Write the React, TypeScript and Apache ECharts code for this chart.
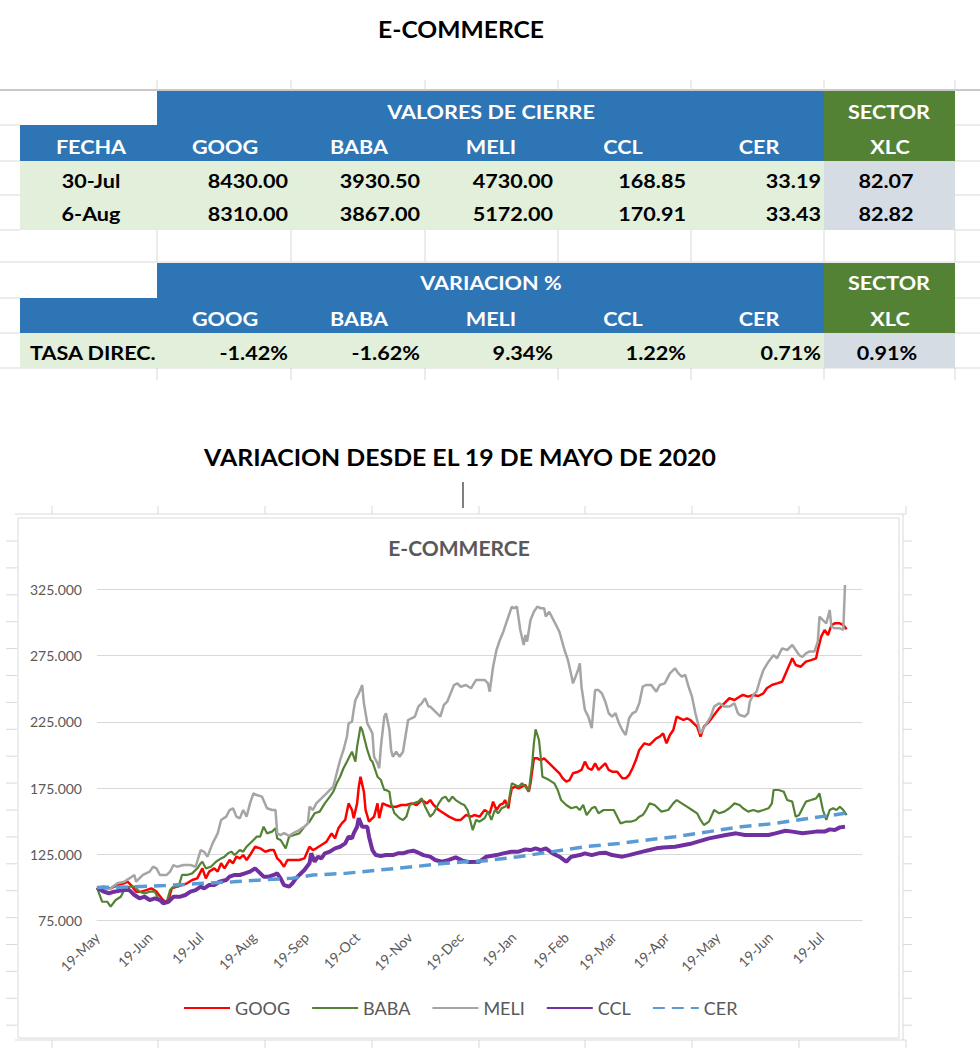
import React, { useEffect, useRef } from "react";
import * as echarts from "echarts";

// ---------- Table data ----------
const TICKERS = ["GOOG", "BABA", "MELI", "CCL", "CER"];
const SECTOR_NAME = "XLC";
const CLOSE_DATES = ["30-Jul", "6-Aug"];
const CLOSE_ROW_1 = ["8430.00", "3930.50", "4730.00", "168.85", "33.19"];
const CLOSE_ROW_2 = ["8310.00", "3867.00", "5172.00", "170.91", "33.43"];
const CLOSE_SECTOR = ["82.07", "82.82"];
const VAR_LABEL = "TASA DIREC.";
const VAR_VALUES = ["-1.42%", "-1.62%", "9.34%", "1.22%", "0.71%"];
const VAR_SECTOR = "0.91%";

// ---------- Chart data: [days since 19-May-2020, index (19-May-2020 = 100)] ----------
const GOOG: number[][] = [
  [0,100],[4,100.7],[8,99.4],[12,101.9],[16,103.2],[18,104.4],[20,101.9],[23,96.9],[26,96.9],[29,98.1],[32,99.4],[35,96.9],[38,91.9],[40,89.3],[42,90.6],[44,99.4],[47,100.7],[50,101.9],[53,103.2],[56,105.7],[59,106.9],[61,112],[62,114.5],[64,106.9],[66,112],[69,114.5],[71,112],[73,118.3],[75,114.5],[78,120.8],[80,118.3],[82,123.3],[84,122],[86,124.5],[88,120.8],[90,124.5],[93,130.8],[96,129.6],[99,127],[102,128.3],[104,128.3],[106,122],[108,119.5],[110,115.7],[112,120.8],[115,120.8],[119,120.8],[122,122],[125,130.8],[127,128.3],[129,129.6],[132,132.1],[135,134.6],[138,140.9],[140,137.1],[142,144.7],[144,148.4],[146,151],[148,163.5],[150,158.5],[151,152.3],[153,163.5],[154,176.1],[155,183.6],[157,172.3],[158,158.5],[160,149.7],[162,152.3],[163,153.5],[165,163.5],[166,152.3],[168,163.5],[170,162.3],[173,161],[176,161],[179,162.3],[182,162.3],[185,163.5],[188,162.3],[191,166],[194,163.5],[196,166],[198,162.3],[201,158.5],[204,156],[207,153.5],[211,151],[214,151],[217,154.7],[220,153.5],[222,154.7],[225,153.5],[228,158.5],[231,156],[233,164.8],[235,158.5],[237,162.3],[239,163.5],[240,166],[242,159.8],[243,168.6],[244,174.8],[246,176.1],[248,174.8],[250,176.1],[252,177.4],[254,172.3],[255,178.6],[257,197.5],[259,197.5],[261,196.2],[263,197.5],[265,195],[268,191.2],[272,186.2],[274,182.4],[276,179.9],[278,181.1],[280,186.2],[283,187.4],[285,188.7],[287,195],[289,190],[291,188.7],[293,193.7],[295,188.7],[297,191.2],[299,193.7],[301,188.7],[303,187.4],[306,187.4],[309,182.4],[311,182.4],[313,184.9],[315,190],[317,196.2],[319,203.8],[322,208.8],[325,207.6],[327,210.1],[329,212.6],[331,213.8],[333,216.3],[335,208.8],[337,215.1],[339,218.9],[341,229],[343,227.7],[345,226.4],[347,227.7],[349,226.4],[351,223.9],[353,221.4],[355,213.8],[357,221.4],[360,225.1],[363,230.2],[366,235.2],[369,239],[372,242.8],[375,241.5],[378,244],[380,245.3],[383,244],[386,245.3],[389,244.5],[392,246.5],[394,250.3],[397,252.8],[400,254],[403,255.3],[406,264.1],[409,272.9],[411,267.9],[414,266.6],[417,270.4],[420,271.6],[423,272.9],[424,279.2],[426,289.3],[428,294.3],[430,290.5],[432,298],[434,299.3],[437,299.3],[439,298],[441,294.8]
];

const BABA: number[][] = [
  [0,100],[3,89.3],[6,89.3],[8,85.6],[11,90.6],[14,93.1],[16,98.1],[19,100.7],[22,100.7],[25,96.9],[28,95.6],[31,96.9],[34,96.9],[36,91.9],[38,89.3],[41,89.3],[43,98.1],[45,100.7],[48,100.7],[50,109.5],[53,109.5],[56,110.7],[59,114.5],[61,118.3],[62,119.5],[64,114.5],[67,115.7],[70,119.5],[73,122],[75,123.3],[77,125.8],[79,127.1],[81,124.5],[84,128.3],[86,127.1],[88,130.8],[91,134.6],[94,138.4],[96,138.4],[98,145.9],[100,140.9],[103,142.2],[105,144.7],[106,137.1],[108,135.9],[111,129.6],[113,138.4],[116,139.7],[119,140.9],[122,145.9],[125,149.7],[128,156],[131,157.3],[134,163.5],[137,168.6],[139,172.3],[141,178.6],[143,183.6],[145,190],[147,195],[149,200],[150,202.5],[152,195],[153,206.3],[155,221.4],[156,218.9],[158,208.8],[159,203.8],[161,196.2],[162,195],[164,187.4],[165,183.6],[167,181.1],[169,173.6],[170,173.6],[172,172.3],[173,163.5],[175,156],[178,152.3],[180,151],[182,153.5],[184,162.3],[186,163.5],[189,164.8],[191,167.3],[193,161],[195,156],[196,153.5],[198,156],[201,163.5],[203,167.3],[205,168.6],[207,164.8],[209,168.6],[211,166],[214,163.5],[216,162.3],[218,158.5],[220,148.4],[221,143.4],[223,151],[225,149.7],[228,152.3],[230,157.3],[232,151],[234,158.5],[236,156],[238,159.8],[240,161],[242,163.5],[244,178.6],[246,177.4],[248,176.1],[250,178.6],[252,176.1],[254,172.3],[256,193.7],[257,208.8],[258,219.4],[260,211.3],[261,198.7],[262,183.6],[264,182.4],[266,181.1],[269,178.6],[271,173.6],[273,166],[276,162.3],[279,159.8],[282,161],[284,158.5],[286,162.3],[288,154.7],[291,159.8],[293,161],[295,156],[298,158.5],[301,158.5],[304,158.5],[306,153.5],[308,148.4],[311,149.7],[314,149.7],[317,151],[319,153.5],[321,154.7],[323,158.5],[325,163.5],[328,162.3],[330,159.8],[332,157.3],[336,158.5],[339,163.5],[341,166],[344,163.5],[347,161],[350,158.5],[353,156],[355,151],[357,147.2],[360,149.7],[363,158.5],[366,156],[369,157.3],[372,159.8],[375,163.5],[378,162.3],[380,159.8],[383,157.3],[386,158.5],[389,157.3],[392,158.5],[395,159.8],[397,163.5],[398,173.6],[401,173.6],[404,172.3],[406,166],[409,164.8],[411,153.5],[413,154.7],[415,159.8],[417,164.8],[420,166],[423,167.3],[425,171],[427,158.5],[429,151],[431,158.5],[433,159.8],[435,158.5],[437,161],[439,158.5],[441,154.7]
];

const MELI: number[][] = [
  [0,100],[4,98],[8,99.4],[12,103.2],[16,104.4],[19,106.9],[22,109.5],[23,104.4],[27,109.5],[31,112],[33,115.7],[35,114.5],[37,109.5],[41,109.5],[43,112],[45,117],[47,115.7],[51,117],[55,117],[58,115.7],[61,128.3],[63,127],[65,123.3],[68,133.3],[71,140.9],[73,151],[76,153.5],[78,158.5],[80,159.8],[82,153.5],[84,152.2],[86,158.5],[88,153.5],[90,163.5],[92,171],[94,169.8],[97,168.6],[100,159.8],[103,158.5],[105,158.5],[106,140.9],[108,139.6],[110,141],[113,139],[116,141.5],[119,143.4],[122,146],[124,148.4],[125,161],[127,158.5],[129,163.5],[132,167.3],[135,171],[137,173.6],[139,176.1],[141,186.2],[143,196.2],[145,203.8],[147,213.8],[148,223.9],[150,225.1],[151,234],[152,241.5],[154,246.5],[156,252.8],[157,239],[159,223.9],[160,221.4],[162,216.3],[163,198.7],[165,193.7],[166,190],[167,206.3],[169,229],[170,231.5],[172,219],[173,203.8],[174,198.7],[176,202.5],[178,198.7],[180,202.5],[183,226.4],[185,227.7],[187,229],[189,236.5],[191,239],[193,242.8],[195,236.5],[196,236.5],[199,232.7],[202,229],[204,237.7],[206,240.2],[208,246.5],[210,252.8],[212,254],[214,251.5],[217,252.8],[220,250.3],[223,256.6],[225,256.6],[228,256.6],[230,254],[231,247.8],[233,266.6],[235,279.2],[237,286.8],[239,293],[240,296.8],[242,304.4],[244,311.9],[245,310.7],[247,311.9],[249,294.3],[251,283],[252,290.5],[253,285.5],[255,301.8],[257,308.1],[259,311.9],[261,310.7],[263,310.7],[264,304.4],[266,308.1],[269,300.6],[272,293],[275,279.2],[277,271.7],[279,260.4],[280,254],[283,264.1],[284,269.1],[285,251.5],[287,234],[289,229],[291,220.2],[293,249],[295,249],[297,246.5],[299,240.2],[301,231.5],[303,229],[305,231.5],[307,224],[309,218.9],[311,215.1],[313,227.7],[315,231.5],[317,232.7],[319,239],[321,251.5],[323,252.8],[326,252.8],[329,247.8],[331,252.8],[334,254],[337,261.6],[340,265.4],[342,261.6],[344,259.1],[346,260.4],[348,251.5],[350,244],[352,231.5],[354,221.4],[355,216.3],[358,222.6],[361,229],[363,236.5],[366,239],[369,236.5],[372,236.5],[375,239],[377,231.5],[378,230.2],[381,229],[383,231.5],[384,240.2],[386,245.3],[388,247.8],[390,256.6],[392,264.1],[395,270.4],[398,275.4],[400,272.9],[403,280.4],[406,279.2],[409,283],[411,279.2],[413,275.4],[415,274.1],[417,276.6],[419,278],[422,278],[424,285.5],[425,304.4],[427,301.8],[429,299.3],[431,309.4],[432,296.8],[434,295.6],[437,295.6],[439,294.3],[440,328.3]
];

const CCL: number[][] = [
  [0,100],[4,96.9],[7,95.6],[10,96.9],[13,97.5],[16,98.1],[19,98.1],[22,94.4],[25,91.9],[28,93.1],[31,90.6],[34,91.9],[37,90.6],[39,88.1],[42,89.3],[45,93.1],[49,93.1],[52,94.4],[55,96.9],[58,98.1],[61,100.7],[63,99.4],[66,101.9],[69,101.9],[72,104.4],[76,105.7],[78,108.2],[81,109.5],[84,109.5],[87,110.7],[90,112],[93,114.5],[95,112],[98,108.2],[101,108.2],[104,109.5],[106,110.7],[108,106.9],[110,101.9],[113,100.7],[115,103.2],[117,106.9],[119,109.5],[122,113.2],[125,118.3],[126,125.8],[128,119.5],[130,123.3],[132,122],[134,125.8],[137,127.1],[140,129.6],[143,130.8],[146,133.3],[148,138.4],[150,137.1],[151,140.9],[153,145.9],[154,152.3],[156,145.9],[159,145.9],[160,138.4],[162,128.3],[164,124.5],[167,123.8],[170,124.5],[174,124.5],[177,125.8],[180,125.8],[183,127.1],[186,127.8],[189,126.3],[192,124.5],[196,123.3],[199,120.8],[203,119.5],[207,120.8],[211,122.8],[215,120.3],[219,119.2],[225,119.5],[229,123.3],[235,124.5],[239,125.8],[244,127.1],[248,127.1],[252,128.8],[255,128.3],[258,129.6],[261,128.3],[264,129.6],[268,125.8],[272,123.3],[276,119.5],[279,123.3],[284,124.5],[287,125.8],[291,124.5],[295,125.8],[299,126.3],[303,124.5],[309,123.3],[313,124.5],[317,125.8],[321,127.1],[325,128.3],[329,129.6],[333,130.3],[340,130.8],[350,133.3],[360,137.1],[370,139.7],[376,140.9],[381,139.7],[389,139.7],[395,139.7],[399,140.9],[405,142.9],[409,142.2],[415,140.9],[423,142.2],[428,142.2],[431,143.9],[434,143.4],[437,145.4],[440,145.9]
];

const CER: number[][] = [
  [0,100],[20,100.5],[40,101.5],[60,103],[80,104.4],[100,106],[115,107],[127,109.5],[146,110.7],[166,113.2],[186,115.7],[205,118.3],[217,119.5],[229,120.3],[248,123.3],[268,127.1],[287,130.8],[307,133.3],[327,136.4],[340,138.4],[360,142.2],[379,145.9],[399,148.4],[419,152.2],[440,156]
];

const X_TICKS = [
  "2020-05-19","2020-06-19","2020-07-19","2020-08-19","2020-09-19","2020-10-19","2020-11-19","2020-12-19",
  "2021-01-19","2021-02-19","2021-03-19","2021-04-19","2021-05-19","2021-06-19","2021-07-19"
];
const MONTHS = ["Jan","Feb","Mar","Apr","May","Jun","Jul","Aug","Sep","Oct","Nov","Dec"];
const Y_MIN = 75;
const Y_MAX = 325;
const Y_STEP = 50;
const X_END_DAY = 450;

// ---------- helpers ----------
const START = Date.UTC(2020, 4, 19);
const DAY_MS = 86400000;
const dayOf = (s: string) => {
  const [y, m, d] = s.split("-").map(Number);
  return Math.round((Date.UTC(y, m - 1, d) - START) / DAY_MS);
};
const dayLabel = (v: number) => {
  const d = new Date(START + Math.round(v) * DAY_MS);
  return `${d.getUTCDate()}-${MONTHS[d.getUTCMonth()]}`;
};

const FONT = "Lato, 'Open Sans', 'DejaVu Sans', sans-serif";
const BLUE = "#2E75B6";
const GREEN = "#548235";
const LIGHT_GREEN = "#E2EFDA";
const GRAY_BLUE = "#D6DCE4";
const GRID_GRAY = "#D9D9D9";
const TEXT_GRAY = "#595959";

const COLS = [20, 157, 291, 425, 558, 691, 824, 955];
const HEAD_CENTERS = [225, 359, 491, 623, 759];
const NUM_RIGHTS = [288, 420, 553, 686, 821];

function rect(x: number, y: number, w: number, h: number, fill: string) {
  return { type: "rect", silent: true, z: 1, shape: { x, y, width: w, height: h }, style: { fill } };
}
function line(x1: number, y1: number, x2: number, y2: number, stroke = GRID_GRAY, lw = 1) {
  return { type: "line", silent: true, z: 0, shape: { x1, y1, x2, y2 }, style: { stroke, lineWidth: lw } };
}
function text(x: number, y: number, t: string, opts: any = {}) {
  return {
    type: "text",
    silent: true,
    z: 5,
    x,
    y,
    scaleX: opts.scaleX ?? 1.2,
    style: {
      text: t,
      fill: opts.fill ?? "#000000",
      fontFamily: FONT,
      fontSize: opts.size ?? 18,
      fontWeight: opts.weight ?? "bold",
      align: opts.align ?? "center",
      verticalAlign: "middle",
    },
  };
}

function buildGraphics() {
  const g: any[] = [];
  // spreadsheet grid around the tables
  g.push(line(0, 90, 980, 90, "#C8C8C8", 2));
  COLS.slice(1).forEach((x) => {
    g.push(line(x, 80, x, 90));
    g.push(line(x, 230, x, 262));
    g.push(line(x, 368, x, 380));
  });
  [125, 161, 195, 230, 262, 298, 333, 368].forEach((y) => {
    g.push(line(0, y, COLS[0], y));
    g.push(line(COLS[7], y, 980, y));
  });
  g.push(line(COLS[0], 262, COLS[7], 262));
  g.push(line(COLS[0], 368, COLS[7], 368));

  // ---- table 1 ----
  g.push(rect(COLS[1], 91, COLS[6] - COLS[1], 70, BLUE));
  g.push(rect(COLS[0], 125, COLS[1] - COLS[0], 36, BLUE));
  g.push(rect(COLS[6], 91, COLS[7] - COLS[6], 70, GREEN));
  g.push(rect(COLS[0], 161, COLS[6] - COLS[0], 69, LIGHT_GREEN));
  g.push(rect(COLS[6], 161, COLS[7] - COLS[6], 69, GRAY_BLUE));
  g.push(text(491, 112, "VALORES DE CIERRE", { fill: "#FFFFFF" }));
  g.push(text(889, 112, "SECTOR", { fill: "#FFFFFF" }));
  g.push(text(91, 147, "FECHA", { fill: "#FFFFFF" }));
  TICKERS.forEach((t, i) => g.push(text(HEAD_CENTERS[i], 147, t, { fill: "#FFFFFF" })));
  g.push(text(890, 147, SECTOR_NAME, { fill: "#FFFFFF" }));
  [CLOSE_ROW_1, CLOSE_ROW_2].forEach((row, r) => {
    const y = 181 + r * 33;
    g.push(text(91, y, CLOSE_DATES[r]));
    row.forEach((v, i) => g.push(text(NUM_RIGHTS[i], y, v, { align: "right" })));
    g.push(text(886, y, CLOSE_SECTOR[r]));
  });

  // ---- table 2 ----
  g.push(rect(COLS[1], 263, COLS[6] - COLS[1], 70, BLUE));
  g.push(rect(COLS[0], 298, COLS[1] - COLS[0], 35, BLUE));
  g.push(rect(COLS[6], 263, COLS[7] - COLS[6], 70, GREEN));
  g.push(rect(COLS[0], 333, COLS[6] - COLS[0], 35, LIGHT_GREEN));
  g.push(rect(COLS[6], 333, COLS[7] - COLS[6], 35, GRAY_BLUE));
  g.push(text(491, 283, "VARIACION %", { fill: "#FFFFFF" }));
  g.push(text(889, 283, "SECTOR", { fill: "#FFFFFF" }));
  TICKERS.forEach((t, i) => g.push(text(HEAD_CENTERS[i], 319, t, { fill: "#FFFFFF" })));
  g.push(text(890, 319, SECTOR_NAME, { fill: "#FFFFFF" }));
  g.push(text(30, 353, VAR_LABEL, { align: "left" }));
  VAR_VALUES.forEach((v, i) => g.push(text(NUM_RIGHTS[i], 353, v, { align: "right" })));
  g.push(text(887, 353, VAR_SECTOR));

  // ---- titles ----
  g.push(text(461, 30, "E-COMMERCE", { size: 22, scaleX: 1.12 }));
  g.push(text(460, 458, "VARIACION DESDE EL 19 DE MAYO DE 2020", { size: 22, scaleX: 1.13 }));
  g.push(line(463, 482, 463, 508, "#000000", 1));

  // ---- spreadsheet grid around the chart ----
  const colX = [52, 158, 265, 372, 479, 585, 692, 799, 906];
  g.push(line(15, 514, 906, 514));
  g.push(line(15, 1040, 906, 1040));
  colX.forEach((x) => {
    g.push(line(x, 506, x, 514));
    g.push(line(x, 1040, x, 1048));
  });
  g.push(line(903, 514, 903, 1040));
  for (let k = 0; k < 19; k++) {
    const y = 541 + k * 26.9;
    g.push(line(6, y, 17, y));
    g.push(line(903, y, 912, y));
  }
  // chart frame
  g.push({
    type: "rect",
    silent: true,
    z: 0,
    shape: { x: 18, y: 518, width: 881, height: 520 },
    style: { fill: "none", stroke: GRID_GRAY, lineWidth: 1 },
  });
  // chart title
  g.push(text(459, 547, "E-COMMERCE", { size: 21, scaleX: 1, fill: TEXT_GRAY }));
  return g;
}

export default function App() {
  const ref = useRef<HTMLDivElement>(null);
  useEffect(() => {
    if (!ref.current) return;
    const chart = echarts.init(ref.current, undefined, { renderer: "svg" });
    const xTicks = X_TICKS.map(dayOf);
    chart.setOption({
      animation: false,
      backgroundColor: "#FFFFFF",
      textStyle: { fontFamily: FONT },
      graphic: { elements: buildGraphics() },
      legend: {
        left: 183,
        top: 999,
        padding: 0,
        itemWidth: 46,
        itemHeight: 14,
        itemGap: 21,
        itemStyle: { opacity: 0 },
        textStyle: { fontFamily: FONT, fontSize: 18, color: TEXT_GRAY },
        data: ["GOOG", "BABA", "MELI", "CCL", "CER"],
      },
      grid: { left: 97, right: 118, top: 589.3, bottom: 140.3, containLabel: false },
      xAxis: {
        type: "value",
        min: 0,
        max: X_END_DAY,
        splitLine: { show: false },
        axisTick: { show: false },
        axisLine: { show: true, lineStyle: { color: GRID_GRAY } },
        axisLabel: {
          customValues: xTicks,
          rotate: 45,
          margin: 14,
          fontFamily: FONT,
          fontSize: 14,
          color: TEXT_GRAY,
          formatter: (v: number) => dayLabel(v),
        },
      },
      yAxis: {
        type: "value",
        min: Y_MIN,
        max: Y_MAX,
        interval: Y_STEP,
        axisLine: { show: false },
        axisTick: { show: false },
        splitLine: { lineStyle: { color: GRID_GRAY, width: 1 } },
        axisLabel: {
          margin: 15,
          fontFamily: FONT,
          fontSize: 14,
          color: TEXT_GRAY,
          formatter: (v: number) => v.toFixed(3),
        },
      },
      series: [
        { name: "GOOG", type: "line", data: GOOG, symbol: "none", clip: false,
          lineStyle: { color: "#FF0000", width: 2.5 }, itemStyle: { color: "#FF0000" } },
        { name: "BABA", type: "line", data: BABA, symbol: "none", clip: false,
          lineStyle: { color: "#548235", width: 2.2 }, itemStyle: { color: "#548235" } },
        { name: "MELI", type: "line", data: MELI, symbol: "none", clip: false,
          lineStyle: { color: "#A5A5A5", width: 2.5 }, itemStyle: { color: "#A5A5A5" } },
        { name: "CCL", type: "line", data: CCL, symbol: "none", clip: false,
          lineStyle: { color: "#7030A0", width: 4 }, itemStyle: { color: "#7030A0" } },
        { name: "CER", type: "line", data: CER, symbol: "none", clip: false,
          lineStyle: { color: "#5B9BD5", width: 3.5, type: [12, 7] }, itemStyle: { color: "#5B9BD5" } },
      ],
    });
    return () => chart.dispose();
  }, []);
  return (
    <div
      ref={ref}
      style={{ position: "absolute", left: 0, top: 0, width: 980, height: 1061 }}
    />
  );
}
